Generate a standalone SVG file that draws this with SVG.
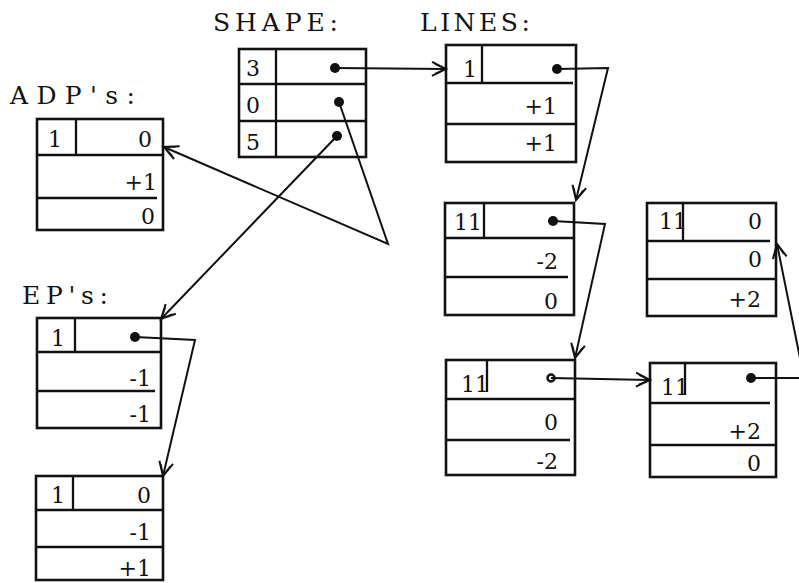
<svg xmlns="http://www.w3.org/2000/svg" width="799" height="583" viewBox="0 0 799 583">
<style>
.box{fill:none;stroke:#111;stroke-width:2.6}
.ln{stroke:#111;stroke-width:2.3}
.t{font-family:"DejaVu Serif","Liberation Serif",serif;font-size:22px;fill:#111}
.r{text-anchor:end}
.lbl{font-family:"DejaVu Serif","Liberation Serif",serif;font-size:25px;fill:#111}
.dot{fill:#111}
.cn{fill:none;stroke:#111;stroke-width:2}
</style>
<defs>
<marker id="arr" markerUnits="userSpaceOnUse" markerWidth="20" markerHeight="20" refX="14" refY="7" orient="auto" overflow="visible">
<path d="M0,0 L14,7 L0,14 M3,2 L14,7 L3,12" fill="none" stroke="#111" stroke-width="2"/>
</marker>
</defs>
<rect width="799" height="583" fill="#fff"/>

<text class="lbl" x="213" y="31" textLength="125" lengthAdjust="spacing">SHAPE:</text>
<text class="lbl" x="420" y="31" textLength="110" lengthAdjust="spacing">LINES:</text>
<text class="lbl" x="10" y="104" textLength="125" lengthAdjust="spacing">ADP's:</text>
<text class="lbl" x="22" y="304" textLength="86" lengthAdjust="spacing">EP's:</text>

<g id="shape">
<rect class="box" x="239" y="49" width="127" height="108"/>
<line class="ln" x1="239" y1="84" x2="366" y2="84"/>
<line class="ln" x1="239" y1="121" x2="366" y2="121"/>
<line class="ln" x1="276" y1="49" x2="276" y2="157"/>
<text class="t" x="246" y="76">3</text>
<text class="t" x="246" y="113">0</text>
<text class="t" x="246" y="150">5</text>
<circle class="dot" cx="335" cy="68" r="5"/>
<circle class="dot" cx="339" cy="102" r="5"/>
<circle class="dot" cx="337" cy="136" r="5"/>
</g>

<g id="lines1">
<rect class="box" x="446" y="45" width="130" height="117"/>
<line class="ln" x1="446" y1="83" x2="573" y2="83"/>
<line class="ln" x1="446" y1="124" x2="576" y2="124"/>
<line class="ln" x1="482" y1="45" x2="482" y2="83"/>
<text class="t r" x="477" y="77">1</text>
<text class="t r" x="557" y="114">+1</text>
<text class="t r" x="557" y="151">+1</text>
<circle class="dot" cx="557" cy="69" r="5"/>
</g>

<g id="lines2">
<rect class="box" x="445" y="203" width="129" height="112"/>
<line class="ln" x1="445" y1="238" x2="574" y2="238"/>
<line class="ln" x1="445" y1="277" x2="568" y2="277"/>
<line class="ln" x1="484" y1="203" x2="484" y2="238"/>
<text class="t r" x="482" y="230">11</text>
<text class="t r" x="558" y="269">-2</text>
<text class="t r" x="558" y="309">0</text>
<circle class="dot" cx="553" cy="221" r="5"/>
</g>

<g id="lines3">
<rect class="box" x="446" y="360" width="129" height="115"/>
<line class="ln" x1="446" y1="399" x2="575" y2="399"/>
<line class="ln" x1="446" y1="440" x2="570" y2="440"/>
<line class="ln" x1="487" y1="360" x2="487" y2="392"/>
<text class="t r" x="489" y="392">11</text>
<text class="t r" x="558" y="430">0</text>
<text class="t r" x="558" y="469">-2</text>
<circle cx="551" cy="378" r="3.5" fill="#fff" stroke="#111" stroke-width="2.5"/>
</g>

<g id="lines4">
<rect class="box" x="650" y="363" width="126" height="114"/>
<line class="ln" x1="650" y1="403" x2="770" y2="403"/>
<line class="ln" x1="650" y1="445" x2="776" y2="445"/>
<line class="ln" x1="685" y1="363" x2="685" y2="395"/>
<text class="t r" x="689" y="395">11</text>
<text class="t r" x="761" y="439">+2</text>
<text class="t r" x="761" y="471">0</text>
<circle class="dot" cx="751" cy="378" r="5"/>
</g>

<g id="lines5">
<rect class="box" x="647" y="203" width="129" height="113"/>
<line class="ln" x1="647" y1="241" x2="770" y2="241"/>
<line class="ln" x1="647" y1="279" x2="776" y2="279"/>
<line class="ln" x1="683" y1="203" x2="683" y2="241"/>
<text class="t r" x="687" y="229">11</text>
<text class="t r" x="762" y="229">0</text>
<text class="t r" x="762" y="267">0</text>
<text class="t r" x="761" y="307">+2</text>
</g>

<g id="adp">
<rect class="box" x="37" y="119" width="126" height="111"/>
<line class="ln" x1="37" y1="155" x2="163" y2="155"/>
<line class="ln" x1="37" y1="198" x2="157" y2="198"/>
<line class="ln" x1="76" y1="119" x2="76" y2="155"/>
<text class="t" x="48" y="147">1</text>
<text class="t r" x="152" y="147">0</text>
<text class="t r" x="157" y="190">+1</text>
<text class="t r" x="155" y="224">0</text>
</g>

<g id="ep1">
<rect class="box" x="37" y="318" width="124" height="110"/>
<line class="ln" x1="37" y1="352" x2="161" y2="352"/>
<line class="ln" x1="37" y1="391" x2="155" y2="391"/>
<line class="ln" x1="75" y1="318" x2="75" y2="352"/>
<text class="t r" x="65" y="346">1</text>
<text class="t r" x="151" y="386">-1</text>
<text class="t r" x="151" y="422">-1</text>
<circle class="dot" cx="135" cy="337" r="5"/>
</g>

<g id="ep2">
<rect class="box" x="36" y="476" width="127" height="104"/>
<line class="ln" x1="36" y1="510" x2="163" y2="510"/>
<line class="ln" x1="36" y1="547" x2="163" y2="547"/>
<line class="ln" x1="73" y1="476" x2="73" y2="510"/>
<text class="t r" x="65" y="503">1</text>
<text class="t r" x="151" y="503">0</text>
<text class="t r" x="151" y="540">-1</text>
<text class="t r" x="151" y="576">+1</text>
</g>

<g id="connectors">
<polyline class="cn" points="335,68 446,69" marker-end="url(#arr)"/>
<polyline class="cn" points="339,102 388,244 164,147" marker-end="url(#arr)"/>
<polyline class="cn" points="337,136 161,319" marker-end="url(#arr)"/>
<polyline class="cn" points="557,69 608,68 576,200" marker-end="url(#arr)"/>
<polyline class="cn" points="553,221 605,224 575,358" marker-end="url(#arr)"/>
<polyline class="cn" points="551,378 650,380" marker-end="url(#arr)"/>
<polyline class="cn" points="751,378 804,378 777,244" marker-end="url(#arr)"/>
<polyline class="cn" points="135,337 195,340 163,476" marker-end="url(#arr)"/>
</g>
</svg>
